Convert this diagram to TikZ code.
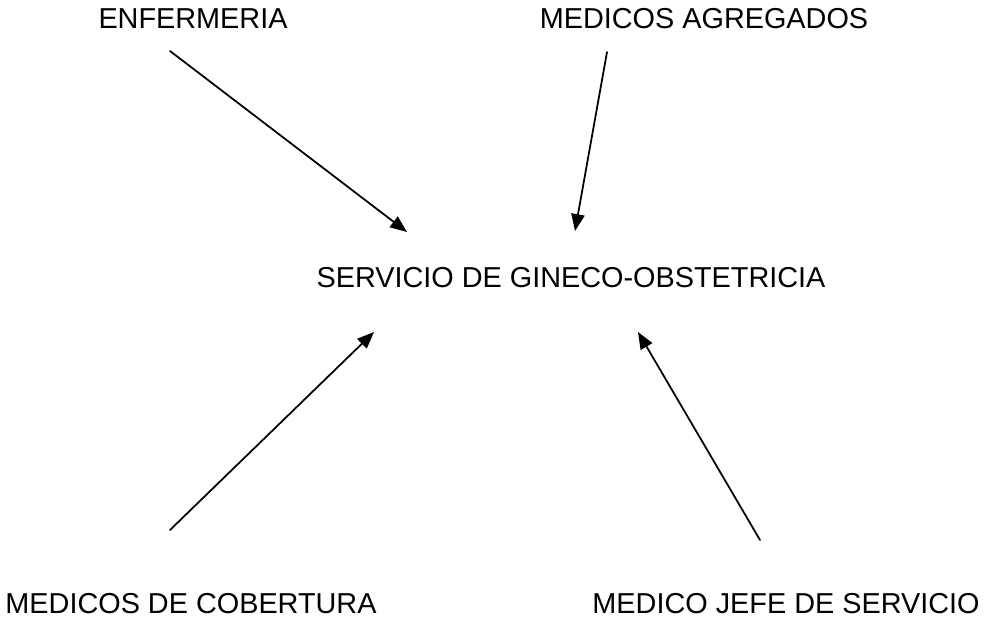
\documentclass[tikz,border=0pt]{standalone}
\usepackage{fontspec}
\setmainfont{Liberation Sans}
\usetikzlibrary{arrows.meta}
\usetikzlibrary{positioning}

\begin{document}
\begin{tikzpicture}[x=0.025cm,y=-0.025cm,line cap=round,line join=round,
    lbl/.style={inner sep=0pt,font=\fontsize{20.5}{24}\selectfont},
    arr/.style={line width=1.25pt,-{Triangle[length=12pt,width=9.5pt]}}]
\useasboundingbox (0,0) rectangle (984,620);

\node[lbl] (enf) at (193,19) {ENFERMERIA};
\node[lbl] (agr) at (704,19) {MEDICOS AGREGADOS};
\node[lbl] (serv) at (571,278) {SERVICIO DE GINECO-OBSTETRICIA};
\node[lbl] (cob) at (191,604) {MEDICOS DE COBERTURA};
\node[lbl] (jefe) at (786,604) {MEDICO JEFE DE SERVICIO};

% extremos de las flechas
\coordinate (enfA) at (170,51);
\coordinate (enfB) at (407,232);
\coordinate (agrA) at (607,52);
\coordinate (agrB) at (575,231);
\coordinate (cobA) at (170,530);
\coordinate (cobB) at (374,332);
\coordinate (jefeA) at (760,540);
\coordinate (jefeB) at (638,332);

\draw[arr] (enfA) -- (enfB);
\draw[arr] (agrA) -- (agrB);
\draw[arr] (cobA) -- (cobB);
\draw[arr] (jefeA) -- (jefeB);
\end{tikzpicture}
\end{document}
